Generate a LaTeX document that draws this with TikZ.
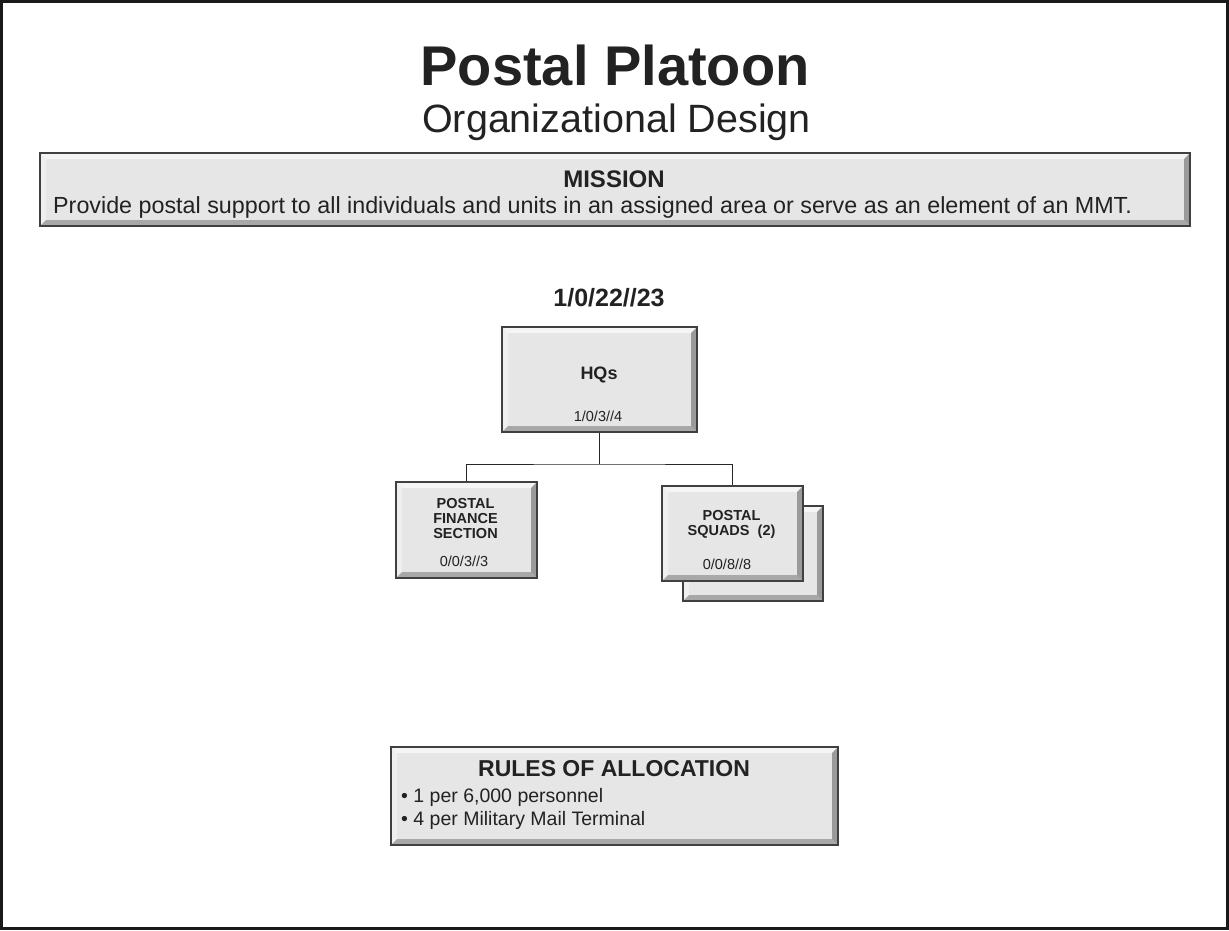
\documentclass[tikz,border=0pt]{standalone}
\usepackage{fontspec}
\setmainfont{Liberation Sans}
\definecolor{inkgray}{HTML}{222222}
\definecolor{panelfill}{HTML}{E6E6E7}
\definecolor{bevtop}{HTML}{F5F5F5}
\definecolor{bevleft}{HTML}{EFEFEF}
\definecolor{bevbottom}{HTML}{A8A8A8}
\definecolor{bevright}{HTML}{9A9A9A}
\tikzset{
  panel/.style={draw=black!75, line width=2pt, fill=panelfill, inner sep=0pt,
    path picture={
      \path (path picture bounding box.north west) coordinate (pa)
            (path picture bounding box.south east) coordinate (pb);
      \fill[bevtop] (pa) -- (pb |- pa) -- ([xshift=-6pt,yshift=-6pt]pb |- pa)
        -- ([xshift=6pt,yshift=-6pt]pa) -- cycle;
      \fill[bevleft] (pa) -- ([xshift=6pt,yshift=-6pt]pa)
        -- ([xshift=6pt,yshift=6pt]pa |- pb) -- (pa |- pb) -- cycle;
      \fill[bevbottom] (pa |- pb) -- (pb) -- ([xshift=-6pt,yshift=6pt]pb)
        -- ([xshift=6pt,yshift=6pt]pa |- pb) -- cycle;
      \fill[bevright] (pb |- pa) -- (pb) -- ([xshift=-6pt,yshift=6pt]pb)
        -- ([xshift=-6pt,yshift=-6pt]pb |- pa) -- cycle;
    }},
  txt/.style={inner sep=0pt, anchor=base, text=inkgray},
  link/.style={draw=black!85, line width=1pt},
}
\begin{document}
\begin{tikzpicture}[x=1pt, y=-1pt]
  \useasboundingbox (0,0) rectangle (1229,930);
  \draw[line width=3pt, black!90] (1.5,1.5) rectangle (1227.5,928.5);

  % heading
  \node[txt, font=\fontsize{56}{60}\selectfont\bfseries] (title) at (615,85) {Postal Platoon};
  \node[txt, font=\fontsize{39.5}{42}\selectfont] (subtitle) at (616.5,132) {Organizational Design};

  % mission
  \node[panel, minimum width=1150pt, minimum height=73pt] (mission) at (615,189.5) {};
  \node[txt, font=\fontsize{24}{26}\selectfont\bfseries] (missionhead) at (614,187) {MISSION};
  \node[txt, anchor=base west, font=\fontsize{23.3}{25}\selectfont] (missiontext) at (53,213)
    {Provide postal support to all individuals and units in an assigned area or serve as an element of an MMT.};

  % units
  \node[txt, font=\fontsize{25}{27}\selectfont\bfseries] (strength) at (609,306) {1/0/22//23};
  \node[panel, minimum width=195pt, minimum height=105pt] (hq) at (599.5,379.5) {};
  \node[txt, font=\fontsize{18}{20}\selectfont\bfseries] (hqname) at (599,379) {HQs};
  \node[txt, font=\fontsize{14.5}{16}\selectfont] (hqnum) at (598,421) {1/0/3//4};

  \node[panel, minimum width=141pt, minimum height=96pt] (fin) at (466.5,530) {};
  \node[txt, anchor=center, align=center, font=\fontsize{14.5}{15}\selectfont\bfseries] (finname) at (465.5,518) {POSTAL\\FINANCE\\SECTION};
  \node[txt, font=\fontsize{14.5}{16}\selectfont] (finnum) at (464,566) {0/0/3//3};

  \node[panel, minimum width=140pt, minimum height=95pt] (sqback) at (753,553.5) {};
  \node[panel, minimum width=141pt, minimum height=95pt] (sq) at (732.5,533.5) {};
  \node[txt, anchor=center, align=center, font=\fontsize{14.5}{15}\selectfont\bfseries] (sqname) at (731.5,524.5) {POSTAL\\SQUADS\ \ (2)};
  \node[txt, font=\fontsize{14.5}{16}\selectfont] (sqnum) at (727,569) {0/0/8//8};

  \draw[link] (hq.south) -- ++(0,31) coordinate (bus);
  \draw[link] (fin.north) |- (bus) -| (sq.north);

  % allocation
  \node[panel, minimum width=447pt, minimum height=98pt] (rules) at (614.5,796) {};
  \node[txt, font=\fontsize{23}{25}\selectfont\bfseries] (ruleshead) at (614,776) {RULES OF ALLOCATION};
  \node[txt, anchor=base west, font=\fontsize{19.5}{22}\selectfont] (ruleone) at (401,802) {• 1 per 6,000 personnel};
  \node[txt, anchor=base west, font=\fontsize{19.5}{22}\selectfont] (ruletwo) at (401,825) {• 4 per Military Mail Terminal};
\end{tikzpicture}
\end{document}
